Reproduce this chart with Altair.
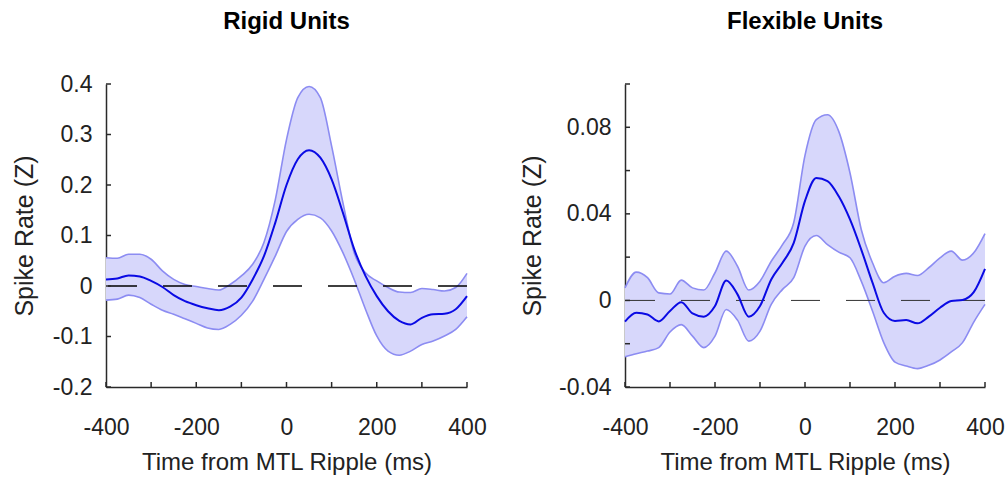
import altair as alt
import pandas as pd

# Time axis (ms from MTL ripple), sampled every 25 ms
time_ms = list(range(-400, 401, 25))

# Rigid units: mean spike rate and the shaded band limits
rigid_mean = [0.013, 0.015, 0.021, 0.019, 0.010, -0.002, -0.018, -0.030, -0.038, -0.044,
              -0.048, -0.041, -0.023, 0.013, 0.059, 0.125, 0.200, 0.251, 0.269, 0.254,
              0.211, 0.145, 0.073, 0.020, -0.020, -0.050, -0.069, -0.076, -0.063, -0.056,
              -0.055, -0.046, -0.020]
rigid_upper = [0.056, 0.055, 0.063, 0.063, 0.053, 0.030, 0.013, 0.003, -0.001, -0.005,
               -0.008, 0.003, 0.020, 0.043, 0.086, 0.170, 0.290, 0.373, 0.395, 0.373,
               0.277, 0.165, 0.066, 0.026, 0.010, -0.003, -0.012, -0.013, -0.005, -0.007,
               -0.010, -0.003, 0.025]
rigid_lower = [-0.028, -0.026, -0.018, -0.023, -0.036, -0.048, -0.056, -0.065, -0.074, -0.083,
               -0.086, -0.076, -0.058, -0.030, 0.013, 0.059, 0.108, 0.132, 0.142, 0.135,
               0.109, 0.066, 0.013, -0.046, -0.099, -0.129, -0.137, -0.129, -0.116, -0.109,
               -0.099, -0.086, -0.061]

# Flexible units
flex_mean = [-0.0098, -0.0057, -0.0065, -0.0097, -0.0049, -0.0008, -0.0060, -0.0075, -0.0026, 0.0092,
             0.0028, -0.0075, -0.0026, 0.0097, 0.0174, 0.0266, 0.0460, 0.0566, 0.0551, 0.0481,
             0.0374, 0.0235, 0.0082, -0.0057, -0.0095, -0.0091, -0.0106, -0.0075, -0.0034, -0.0003,
             0.0002, 0.0038, 0.0146]
flex_upper = [0.0058, 0.0131, 0.0105, 0.0035, 0.0030, 0.0094, 0.0058, 0.0048, 0.0128, 0.0228,
              0.0158, 0.0048, 0.0089, 0.0181, 0.0258, 0.0360, 0.0670, 0.0835, 0.0858, 0.0781,
              0.0589, 0.0328, 0.0174, 0.0082, 0.0112, 0.0125, 0.0115, 0.0151, 0.0197, 0.0228,
              0.0186, 0.0220, 0.0309]
flex_lower = [-0.0260, -0.0246, -0.0234, -0.0218, -0.0146, -0.0112, -0.0165, -0.0218, -0.0165, -0.0042,
              -0.0091, -0.0188, -0.0142, -0.0018, 0.0051, 0.0105, 0.0251, 0.0300, 0.0258, 0.0223,
              0.0197, 0.0089, -0.0049, -0.0195, -0.0285, -0.0303, -0.0315, -0.0300, -0.0275, -0.0238,
              -0.0195, -0.0100, -0.0018]

x_tick_values = [-400, -300, -200, -100, 0, 100, 200, 300, 400]
x_label_values = [-400, -200, 0, 200, 400]

rigid_y_ticks = [-0.2, -0.1, 0.0, 0.1, 0.2, 0.3, 0.4]
rigid_y_labels = [-0.2, -0.1, 0.0, 0.1, 0.2, 0.3, 0.4]
flex_y_ticks = [-0.04, -0.02, 0.0, 0.02, 0.04, 0.06, 0.08, 0.1]
flex_y_labels = [-0.04, 0.0, 0.04, 0.08]

BAND_FILL = "#d7d7fb"
BAND_EDGE = "#8c8cf2"
MEAN_COLOR = "#0a0ae4"
AXIS_COLOR = "#2a2a2a"
TEXT_COLOR = "#222222"
PLOT_H = 303
SANS = "Liberation Sans, Arial, Helvetica, sans-serif"


def hyphen_label(decimals):
    fmt = ".%df" % decimals
    return ("datum.value == 0 ? '0' : (datum.value < 0 ? '-' + format(-datum.value, '%s') "
            ": format(datum.value, '%s'))" % (fmt, fmt))


def panel(title, mean, upper, lower, y_domain, y_ticks, y_labels, decimals,
          width, ytitle_x, zero_color, zero_width):
    df = pd.DataFrame({"t": time_ms, "mean": mean, "upper": upper, "lower": lower})

    x_scale = alt.Scale(domain=[-400, 400], nice=False, zero=False)
    y_scale = alt.Scale(domain=y_domain, nice=False, zero=False)

    x_axis = alt.Axis(
        values=x_label_values,
        labelExpr=hyphen_label(0),
        title="Time from MTL Ripple (ms)",
        ticks=False, tickSize=0, grid=False,
        domainColor=AXIS_COLOR, domainWidth=1.5,
        labelFont=SANS, labelFontSize=23, labelColor=TEXT_COLOR, labelPadding=47,
        labelBaseline="alphabetic", labelFlush=False,
        titleFont=SANS, titleFontSize=24, titleFontWeight="normal", titleColor=TEXT_COLOR,
        titleX=width / 2, titleY=82, titleBaseline="alphabetic", titleAlign="center",
    )
    y_axis = alt.Axis(
        values=y_labels,
        labelExpr=hyphen_label(decimals),
        title="Spike Rate (Z)",
        ticks=False, tickSize=0, grid=False,
        domainColor=AXIS_COLOR, domainWidth=1.5,
        labelFont=SANS, labelFontSize=23, labelColor=TEXT_COLOR, labelPadding=14,
        labelFlush=False,
        titleFont=SANS, titleFontSize=25, titleFontWeight="normal", titleColor=TEXT_COLOR,
        titleAngle=270, titleX=ytitle_x, titleY=PLOT_H / 2,
        titleBaseline="middle", titleAlign="center",
    )

    def X(field):
        return alt.X(field, type="quantitative", scale=x_scale, axis=x_axis)

    def Y(field):
        return alt.Y(field, type="quantitative", scale=y_scale, axis=y_axis)

    base = alt.Chart(df)

    band = base.mark_area(color=BAND_FILL, opacity=1, interpolate="monotone").encode(
        x=X("t"), y=Y("lower"), y2="upper:Q"
    )
    edges = base.transform_fold(["upper", "lower"], as_=["edge", "v"]).mark_line(
        color=BAND_EDGE, strokeWidth=1.6, interpolate="monotone"
    ).encode(x=X("t"), y=Y("v"), detail="edge:N")

    zero = alt.Chart(pd.DataFrame({"z": [0.0]})).mark_rule(
        color=zero_color, strokeWidth=zero_width, strokeDash=[29, 26]
    ).encode(y=Y("z"))

    mean_line = base.mark_line(color=MEAN_COLOR, strokeWidth=2, interpolate="monotone").encode(
        x=X("t"), y=Y("mean")
    )

    # inward-pointing tick marks on both axes
    y_tick_marks = alt.Chart(pd.DataFrame({"yt": y_ticks})).mark_rule(
        color=AXIS_COLOR, strokeWidth=1.5
    ).encode(y=Y("yt"), x=alt.value(0), x2=alt.value(5))
    x_tick_marks = alt.Chart(pd.DataFrame({"tk": x_tick_values})).mark_rule(
        color=AXIS_COLOR, strokeWidth=1.5
    ).encode(x=X("tk"), y=alt.value(PLOT_H), y2=alt.value(PLOT_H - 5))

    # panel heading, centred over the plot area
    heading = alt.Chart(pd.DataFrame({"label": [title]})).mark_text(
        font=SANS, fontSize=24, fontWeight="bold", color="#000000",
        align="center", baseline="alphabetic",
    ).encode(text="label:N", x=alt.value(width / 2), y=alt.value(-55))

    return alt.layer(
        band, edges, zero, mean_line, y_tick_marks, x_tick_marks, heading
    ).properties(width=width, height=PLOT_H)


left = panel("Rigid Units", rigid_mean, rigid_upper, rigid_lower, [-0.2, 0.4],
             rigid_y_ticks, rigid_y_labels, 1, 361, -82, "#000000", 1.6)
right = panel("Flexible Units", flex_mean, flex_upper, flex_lower, [-0.04, 0.1],
              flex_y_ticks, flex_y_labels, 2, 360, -92.5, "#333333", 1.0)

# Fixed canvas: plot origin placed by the padding, total 1007 x 483
chart = alt.hconcat(left, right, spacing=158, bounds="flush").configure_view(
    stroke=None
).properties(
    background="white",
    autosize=alt.AutoSizeParams(type="none"),
    padding={"left": 106, "top": 84, "right": 901, "bottom": 399},
)

chart.save("out.html", embed_options={"renderer": "svg", "actions": False})
